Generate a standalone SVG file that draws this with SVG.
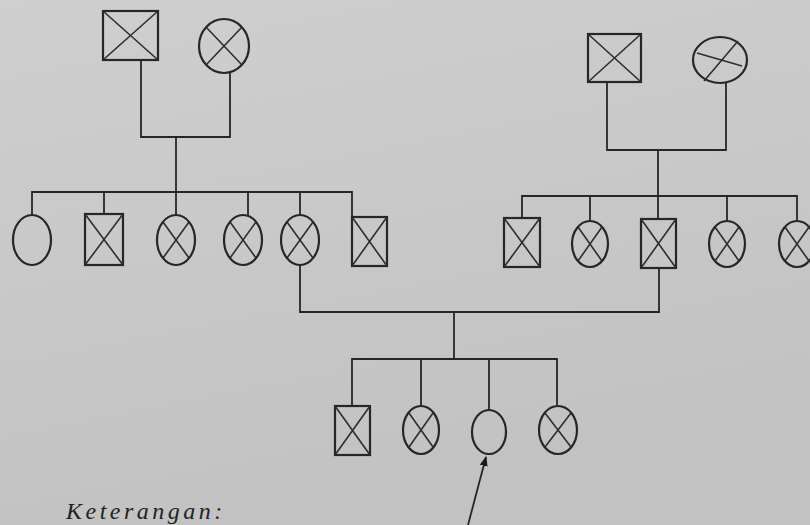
<svg xmlns="http://www.w3.org/2000/svg" width="810" height="525" viewBox="0 0 810 525">
<style>
.s{fill:none;stroke:#262626;stroke-width:2.2}
.x{fill:none;stroke:#2e2e2e;stroke-width:1.6}
.c{fill:none;stroke:#262626;stroke-width:1.8}
.t{font-family:"Liberation Serif",serif;font-style:italic;font-size:24px;fill:#222;letter-spacing:3.5px}
</style>
<defs>
<marker id="ah" markerWidth="10" markerHeight="10" refX="9" refY="5" orient="auto" markerUnits="userSpaceOnUse">
<path d="M0,1 L10,5 L0,9 Z" fill="#1a1a1a"/>
</marker>
<linearGradient id="bg" x1="0" y1="0" x2="0.3" y2="1">
<stop offset="0" stop-color="#cfcfcf"/>
<stop offset="1" stop-color="#c2c2c2"/>
</linearGradient>
</defs>
<rect width="810" height="525" fill="url(#bg)"/>
<g id="connectors" class="c">
<polyline points="141,60 141,137 230,137 230,73"/>
<line x1="176" y1="137" x2="176" y2="216"/>
<polyline points="32,215 32,192 352,192 352,217"/>
<line x1="104" y1="192" x2="104" y2="214"/>
<line x1="248" y1="192" x2="248" y2="215"/>
<line x1="300" y1="192" x2="300" y2="215"/>
<polyline points="607,82 607,150 726,150 726,83"/>
<line x1="658" y1="150" x2="658" y2="219"/>
<polyline points="522,218 522,196 797,196 797,221"/>
<line x1="590" y1="196" x2="590" y2="222"/>
<line x1="727" y1="196" x2="727" y2="221"/>
<polyline points="300,265 300,312 659,312 659,268"/>
<line x1="454" y1="312" x2="454" y2="359"/>
<polyline points="352,406 352,359 557,359 557,405"/>
<line x1="421" y1="359" x2="421" y2="406"/>
<line x1="489" y1="359" x2="489" y2="410"/>
<line x1="468" y1="525" x2="486" y2="457" marker-end="url(#ah)"/>
</g>
<g id="gf1"><rect class="s" x="103" y="11" width="55" height="49"/><path class="x" d="M103,11 L158,60 M158,11 L103,60"/></g>
<g id="gm1"><ellipse class="s" cx="224" cy="46" rx="25" ry="27"/><path class="x" d="M206,27 L242,65 M242,27 L206,65"/></g>
<g id="gf2"><rect class="s" x="588" y="34" width="53" height="48"/><path class="x" d="M588,34 L641,82 M641,34 L588,82"/></g>
<g id="gm2"><ellipse class="s" cx="720" cy="60" rx="27" ry="23"/><path class="x" d="M697,53 L742,66 M704,81 L738,41"/></g>
<g id="a1"><ellipse class="s" cx="32" cy="240" rx="19" ry="25"/></g>
<g id="a2"><rect class="s" x="85" y="214" width="38" height="51"/><path class="x" d="M85,214 L123,265 M123,214 L85,265"/></g>
<g id="a3"><ellipse class="s" cx="176" cy="240" rx="19" ry="25"/><path class="x" d="M163,222 L189,258 M189,222 L163,258"/></g>
<g id="a4"><ellipse class="s" cx="243" cy="240" rx="19" ry="25"/><path class="x" d="M230,222 L256,258 M256,222 L230,258"/></g>
<g id="a5"><ellipse class="s" cx="300" cy="240" rx="19" ry="25"/><path class="x" d="M287,222 L313,258 M313,222 L287,258"/></g>
<g id="a6"><rect class="s" x="352" y="217" width="35" height="49"/><path class="x" d="M352,217 L387,266 M387,217 L352,266"/></g>
<g id="b1"><rect class="s" x="504" y="218" width="36" height="49"/><path class="x" d="M504,218 L540,267 M540,218 L504,267"/></g>
<g id="b2"><ellipse class="s" cx="590" cy="244" rx="18" ry="23"/><path class="x" d="M578,227 L602,261 M602,227 L578,261"/></g>
<g id="b3"><rect class="s" x="641" y="219" width="35" height="49"/><path class="x" d="M641,219 L676,268 M676,219 L641,268"/></g>
<g id="b4"><ellipse class="s" cx="727" cy="244" rx="18" ry="23"/><path class="x" d="M715,227 L739,261 M739,227 L715,261"/></g>
<g id="b5"><ellipse class="s" cx="797" cy="244" rx="18" ry="23"/><path class="x" d="M785,227 L809,261 M809,227 L785,261"/></g>
<g id="c1"><rect class="s" x="335" y="406" width="35" height="49"/><path class="x" d="M335,406 L370,455 M370,406 L335,455"/></g>
<g id="c2"><ellipse class="s" cx="421" cy="430" rx="18" ry="24"/><path class="x" d="M409,413 L433,447 M433,413 L409,447"/></g>
<g id="c3"><ellipse class="s" cx="489" cy="432" rx="17" ry="22"/></g>
<g id="c4"><ellipse class="s" cx="558" cy="430" rx="19" ry="24"/><path class="x" d="M545,413 L571,447 M571,413 L545,447"/></g>
<g id="legend"><text class="t" x="66" y="519">Keterangan:</text></g>
</svg>
